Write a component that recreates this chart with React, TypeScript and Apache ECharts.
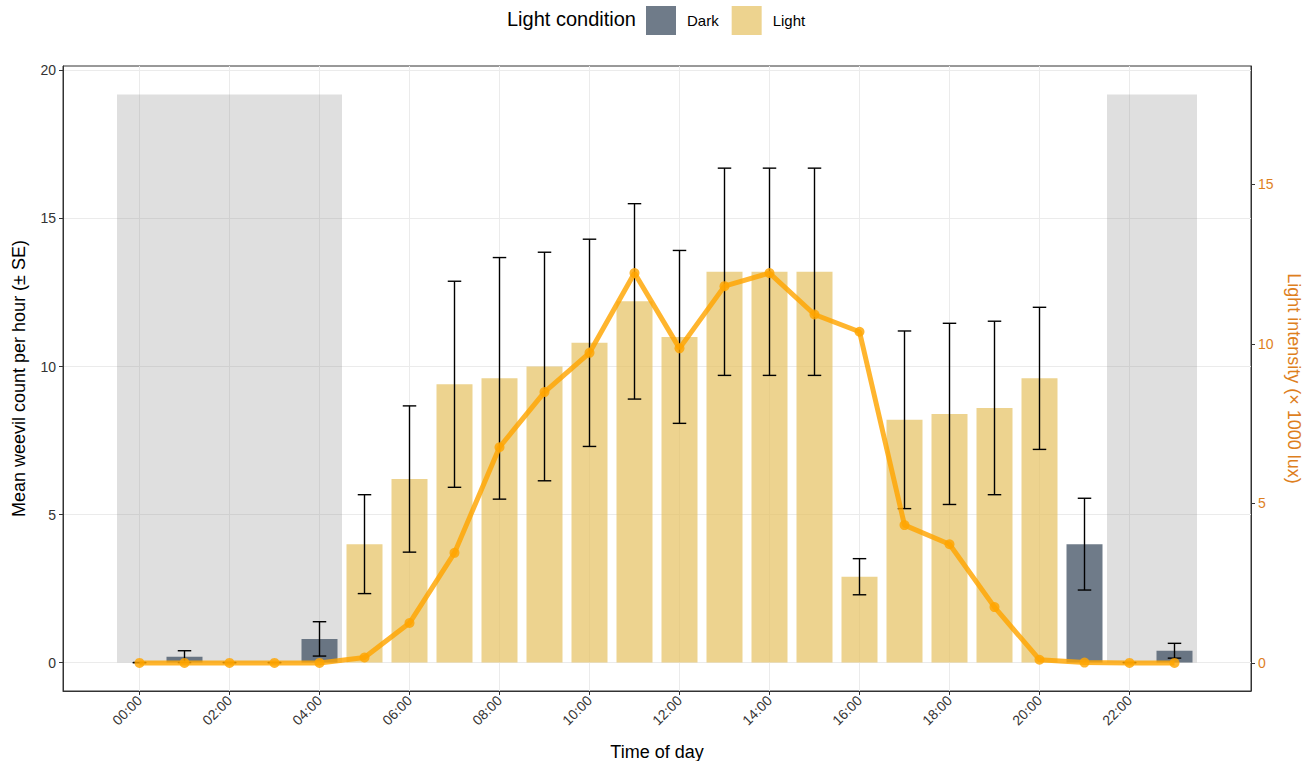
import React, { useEffect, useRef } from "react";
import * as echarts from "echarts";

// ---- data ----
const hours = [0, 1, 2, 3, 4, 5, 6, 7, 8, 9, 10, 11, 12, 13, 14, 15, 16, 17, 18, 19, 20, 21, 22, 23];
const condition = [
  "Dark", "Dark", "Dark", "Dark", "Dark",
  "Light", "Light", "Light", "Light", "Light", "Light", "Light", "Light",
  "Light", "Light", "Light", "Light", "Light", "Light", "Light", "Light",
  "Dark", "Dark", "Dark",
];
const meanCount = [0, 0.2, 0, 0, 0.8, 4.0, 6.2, 9.4, 9.6, 10.0, 10.8, 12.2, 11.0, 13.2, 13.2, 13.2, 2.9, 8.2, 8.4, 8.6, 9.6, 4.0, 0, 0.4];
const seCount = [0, 0.2, 0, 0, 0.58, 1.67, 2.47, 3.48, 4.08, 3.86, 3.5, 3.3, 2.92, 3.5, 3.5, 3.5, 0.61, 3.0, 3.06, 2.93, 2.4, 1.55, 0, 0.25];
const lightKlux = [0, 0, 0, 0, 0, 0.17, 1.25, 3.45, 6.76, 8.49, 9.72, 12.22, 9.86, 11.81, 12.22, 10.92, 10.38, 4.32, 3.72, 1.75, 0.1, 0.01, 0, 0];
const shadeStart = [-0.5, 21.5];
const shadeEnd = [4.5, 23.5];
const shadeTop = 19.19;
const xTicks = [0, 2, 4, 6, 8, 10, 12, 14, 16, 18, 20, 22];
const leftTicks = [0, 5, 10, 15, 20];
const rightTicks = [0, 5, 10, 15];

const X_MIN = -1.7;
const X_MAX = 24.7;
const Y_MIN = -0.96;
const Y_MAX = 20.15;
const L_MIN = -0.88;
const L_MAX = 18.71;

const DARK = "rgba(75,90,108,0.8)";
const LIGHT = "rgba(230,193,95,0.7)";
const ORANGE_LINE = "rgba(255,165,0,0.82)";
const ORANGE_TEXT = "#DE7F1E";
const FONT = "'Liberation Sans', Arial, Helvetica, sans-serif";

const fmtHour = (v: number) => (v < 10 ? "0" + v : "" + v) + ":00";

export default function App() {
  const ref = useRef<HTMLDivElement>(null);
  useEffect(() => {
    if (!ref.current) return;
    const chart = echarts.init(ref.current, undefined, { renderer: "svg" });

    const barSeries = (name: string, color: string) => ({
      name,
      type: "custom",
      xAxisIndex: 0,
      yAxisIndex: 0,
      itemStyle: { color },
      data: hours
        .map((h, i) => (condition[i] === name ? [h, meanCount[i]] : null))
        .filter((d) => d !== null),
      encode: { x: 0, y: 1 },
      z: 3,
      renderItem: (params: any, api: any) => {
        const x = api.value(0);
        const y = api.value(1);
        const p0 = api.coord([x - 0.4, y]);
        const p1 = api.coord([x + 0.4, 0]);
        return {
          type: "rect",
          shape: { x: p0[0], y: p0[1], width: p1[0] - p0[0], height: p1[1] - p0[1] },
          style: { fill: color },
        };
      },
    });

    const axisLine = { show: true, onZero: false, lineStyle: { color: "#333333", width: 1 } };

    const option: any = {
      animation: false,
      backgroundColor: "#ffffff",
      textStyle: { fontFamily: FONT },
      grid: {
        left: 63,
        right: 60,
        top: 66,
        bottom: 70,
        show: true,
        borderColor: "#333333",
        borderWidth: 1,
        backgroundColor: "transparent",
        containLabel: false,
        outerBoundsMode: "none",
      },
      legend: {
        left: 646,
        top: 6,
        padding: 0,
        itemWidth: 30,
        itemHeight: 29,
        itemGap: 13,
        icon: "rect",
        data: ["Dark", "Light"],
        textStyle: { fontSize: 15, color: "#000", fontFamily: FONT, padding: [0, 0, 0, 6] },
        selectedMode: false,
      },
      graphic: [
        {
          type: "text",
          left: 507,
          top: 9,
          style: { text: "Light condition", fontSize: 20, fill: "#000", fontFamily: FONT },
        },
      ],
      xAxis: {
        type: "value",
        min: X_MIN,
        max: X_MAX,
        name: "Time of day",
        nameLocation: "middle",
        nameGap: 52,
        nameTextStyle: { fontSize: 18, color: "#000", fontFamily: FONT },
        axisLine,
        axisTick: { show: true, length: 4, lineStyle: { color: "#333333" }, customValues: xTicks },
        axisLabel: {
          customValues: xTicks,
          rotate: 45,
          fontSize: 14,
          color: "#333333",
          margin: 7,
          fontFamily: FONT,
          formatter: (v: number) => fmtHour(v),
        },
        splitLine: { show: true, lineStyle: { color: "#EBEBEB", width: 1 } },
      },
      yAxis: [
        {
          type: "value",
          min: Y_MIN,
          max: Y_MAX,
          position: "left",
          name: "Mean weevil count per hour (± SE)",
          nameLocation: "middle",
          nameGap: 35,
          nameTextStyle: { fontSize: 18, color: "#000", fontFamily: FONT },
          axisLine,
          axisTick: { show: true, length: 4, lineStyle: { color: "#333333" }, customValues: leftTicks },
          axisLabel: {
            customValues: leftTicks,
            fontSize: 14,
            color: "#333333",
            margin: 7,
            fontFamily: FONT,
          },
          splitLine: { show: true, lineStyle: { color: "#EBEBEB", width: 1 } },
        },
        {
          type: "value",
          min: L_MIN,
          max: L_MAX,
          position: "right",
          name: "Light intensity (× 1000 lux)",
          nameLocation: "middle",
          nameRotate: -90,
          nameGap: 34,
          nameTextStyle: { fontSize: 18, color: ORANGE_TEXT, fontFamily: FONT },
          axisLine,
          axisTick: { show: true, length: 4, lineStyle: { color: "#333333" }, customValues: rightTicks },
          axisLabel: {
            customValues: rightTicks,
            fontSize: 14,
            color: ORANGE_TEXT,
            margin: 7,
            fontFamily: FONT,
          },
          splitLine: { show: false },
        },
      ],
      series: [
        {
          name: "shade",
          type: "custom",
          xAxisIndex: 0,
          yAxisIndex: 0,
          silent: true,
          z: 1,
          data: shadeStart.map((s, i) => [s, shadeEnd[i], shadeTop]),
          encode: { x: [0, 1], y: 2 },
          renderItem: (params: any, api: any) => {
            const p0 = api.coord([api.value(0), api.value(2)]);
            const p1 = api.coord([api.value(1), 0]);
            return {
              type: "rect",
              shape: { x: p0[0], y: p0[1], width: p1[0] - p0[0], height: p1[1] - p0[1] },
              style: { fill: "rgba(128,128,128,0.25)" },
            };
          },
        },
        barSeries("Dark", DARK),
        barSeries("Light", LIGHT),
        {
          name: "errors",
          type: "custom",
          xAxisIndex: 0,
          yAxisIndex: 0,
          z: 4,
          data: hours.map((h, i) => [h, meanCount[i] - seCount[i], meanCount[i] + seCount[i]]),
          encode: { x: 0, y: [1, 2] },
          renderItem: (params: any, api: any) => {
            const x = api.value(0);
            const lo = api.coord([x, api.value(1)]);
            const hi = api.coord([x, api.value(2)]);
            const cl = api.coord([x - 0.15, 0])[0];
            const cr = api.coord([x + 0.15, 0])[0];
            const st = { stroke: "#000", lineWidth: 1.4 };
            return {
              type: "group",
              children: [
                { type: "line", shape: { x1: lo[0], y1: lo[1], x2: hi[0], y2: hi[1] }, style: st },
                { type: "line", shape: { x1: cl, y1: lo[1], x2: cr, y2: lo[1] }, style: st },
                { type: "line", shape: { x1: cl, y1: hi[1], x2: cr, y2: hi[1] }, style: st },
              ],
            };
          },
        },
        {
          name: "Light intensity",
          type: "line",
          xAxisIndex: 0,
          yAxisIndex: 1,
          z: 5,
          data: hours.map((h, i) => [h, lightKlux[i]]),
          symbol: "circle",
          symbolSize: 10,
          lineStyle: { color: ORANGE_LINE, width: 5 },
          itemStyle: { color: ORANGE_LINE },
        },
      ],
    };
    chart.setOption(option);
    return () => chart.dispose();
  }, []);

  return (
    <div
      ref={ref}
      style={{ position: "fixed", left: 0, top: 0, width: 1311, height: 761, background: "#fff" }}
    />
  );
}
